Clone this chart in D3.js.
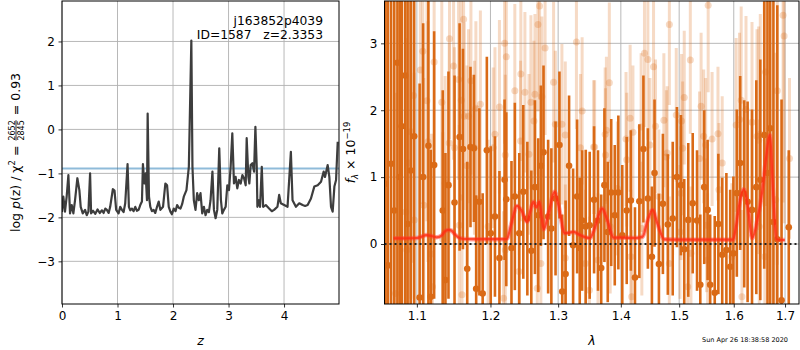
<!DOCTYPE html>
<html>
<head>
<meta charset="utf-8">
<script src="https://d3js.org/d3.v7.min.js"></script>
<style>
  body { margin: 0; background: #fff; }
  text { font-family: "DejaVu Sans", sans-serif; }
</style>
</head>
<body>
<div id="chart"></div>
<script>
// ---- left panel: redshift probability ----
const zGrid = [0.000,0.024,0.054,0.084,0.115,0.145,0.175,0.205,0.235,0.277,0.313,0.337,0.374,0.416,0.446,0.476,0.506,0.524,
  0.56,0.60,0.64,0.68,0.72,0.75,0.78,0.808,0.84,0.868,0.916,0.946,0.976,1.019,1.049,1.079,1.11,1.139,1.181,1.205,1.23,1.26,1.29,1.32,1.35,
  1.38,1.41,1.44,1.458,1.483,1.507,1.531,1.543,1.567,1.591,1.62,1.652,1.68,1.712,1.742,1.772,1.82,1.862,1.893,1.923,1.953,1.98,2.013,
  2.045,2.074,2.104,2.134,2.164,2.194,2.242,2.285,2.33,2.35,2.375,2.405,2.435,2.465,2.495,2.526,2.556,2.586,2.616,2.646,2.676,2.71,
  2.737,2.767,2.797,2.833,2.863,2.887,2.917,2.948,2.978,3.008,3.038,3.068,3.098,3.128,3.158,3.188,3.219,3.249,3.279,3.309,3.327,
  3.357,3.375,3.399,3.43,3.46,3.484,3.508,3.52,3.55,3.568,3.599,3.623,3.671,3.731,3.78,3.821,3.881,3.912,3.942,4.002,4.063,4.123,
  4.153,4.214,4.274,4.334,4.38,4.425,4.485,4.545,4.606,4.666,4.714,4.738,4.786,4.816,4.846,4.876,4.907,4.937,4.967];
const logPz = [-1.88,-1.53,-1.87,-1.53,-1.04,-1.91,-1.72,-1.91,-1.61,-1.11,-1.38,-1.76,-1.91,-1.83,-1.95,-1.87,-1.00,-1.91,
  -1.85,-1.92,-1.82,-1.90,-1.84,-1.90,-1.80,-1.83,-1.90,-1.76,-1.36,-1.39,-1.83,-1.91,-1.76,-1.83,-1.88,-1.68,-0.79,-1.76,-1.84,-1.80,-1.86,-1.76,-1.85,
  -1.83,-1.72,-1.64,-0.79,-1.23,-1.00,-1.61,0.36,-1.53,-1.76,-1.86,-1.83,-1.90,-1.76,-1.64,-1.83,-1.76,-1.23,-1.27,-1.76,-1.87,-1.93,-1.80,
  -1.86,-1.72,-1.78,-1.80,-1.70,-1.53,-1.38,-0.85,2.02,-0.85,-1.61,-1.83,-1.45,-1.61,-1.45,-1.91,-1.76,-1.95,-1.83,-1.88,-1.61,-0.96,
  -1.83,-2.02,-1.83,-0.43,-1.61,-1.91,-1.83,-1.76,-1.27,-1.38,-0.85,-0.09,-1.23,-1.08,-1.34,-1.15,-1.23,-1.04,-1.11,-1.27,-0.20,
  -1.08,-1.23,-0.81,-0.77,-0.96,0.06,-0.85,-1.76,-1.61,-1.76,-0.85,-1.76,-1.72,-1.80,-1.86,-1.83,-1.76,-1.49,-1.68,-1.72,-1.76,-0.51,
  -1.61,-1.76,-1.68,-1.72,-1.74,-1.72,-1.57,-1.30,-1.27,-1.19,-0.96,-1.08,-0.81,-1.08,-1.76,-1.87,-1.30,-1.15,-0.28];
const pzLevel = -0.886;
const zTicks = [0, 1, 2, 3, 4];
const pzTicks = [-3, -2, -1, 0, 1, 2];

// ---- right panel: spectrum ----
const darkWave = [1.060,1.063,1.067,1.071,1.075,1.078,1.0805,1.0848,1.088,1.092,1.0965,1.1036,1.1082,1.1151,1.1182,1.1227,
  1.1342,1.1378,1.1419,1.1501,1.157,1.1616,1.1675,1.172,1.1767,1.1799,1.1844,1.189,1.1949,1.2004,1.2064,1.2128,1.2202,1.2227,
  1.2302,1.2351,1.2416,1.2475,1.2535,1.2594,1.2648,1.2698,1.2737,1.2777,1.2847,1.2896,1.296,1.302,1.3063,1.3115,1.3169,1.3232,
  1.3295,1.3336,1.3374,1.3431,1.3494,1.3564,1.3627,1.3679,1.3731,1.3785,1.3842,1.39,1.3959,1.4024,1.4098,1.4167,1.4236,1.431,
  1.4379,1.4455,1.4524,1.4569,1.4645,1.4714,1.48,1.4886,1.496,1.5031,1.509,1.5162,1.5242,1.532,1.5379,1.5451,1.5513,1.556,
  1.5644,1.5711,1.5783,1.5861,1.5933,1.5993,1.6058,1.6122,1.6199,1.6264,1.6349,1.6432,1.651,1.6587,1.6651,1.6704,1.6768,
  1.6845,1.693,1.7075];
const darkFlux = [0.9,-0.32,1.2,0.5,2.71,1.0,1.76,2.52,0.3,1.1,1.61,-0.80,1.0,1.47,-0.79,1.18,
  0.5,-0.54,0.88,0.62,1.6,1.42,-0.37,1.45,1.43,-0.67,0.63,-0.74,1.4,0.16,0.41,-0.21,0.96,0.67,
  -0.06,0.71,0.16,0.78,0.38,-0.1,0.85,0.43,1.17,1.37,0.41,0.23,0.68,1.48,-0.71,-0.45,1.17,-0.02,
  0.71,-0.06,0.35,0.26,0.28,0.66,0.35,-0.36,0.88,0.18,0.77,0.43,0.77,0.13,0.5,0.65,-0.5,0.64,
  1.42,0.68,-0.19,1.06,-0.3,0.6,0.29,0.38,1.0,0.88,-0.08,0.36,0.61,0.35,-0.61,0.85,0.51,-0.61,
  -0.73,0.3,-0.16,-0.09,-0.34,-0.14,0.76,1.21,0.75,0.63,0.51,0.85,0.96,1.63,1.06,1.73,0.33,
  0.07,-0.84,0.25];
const darkErr = [6,6,6,6,6,6,6,6,6,5,4,3.2,2.3,2.5,2.2,2.0,
  1.8,1.9,1.7,1.9,1.7,1.5,1.6,1.2,1.1,1.4,1.4,1.5,1.4,1.3,1.2,1.3,1.2,1.3,
  1.3,1.4,1.2,1.3,1.15,1.2,1.3,1.15,1.2,1.3,1.15,1.2,1.15,1.1,1.15,1.1,1.05,1.15,
  1.15,1.05,1.05,1.15,1.1,1.1,1.05,1.1,1.15,1.05,1.1,1.05,1.15,1.05,1.1,1.05,1.05,1.15,
  1.1,1.05,1.05,1.1,1.05,1.05,1.05,1.15,1.05,1.05,1.05,1.15,1.05,1.05,1.05,1.15,1.05,1.05,
  1.15,1.05,1.15,1.15,1.15,1.15,1.25,1.3,1.4,1.5,1.5,1.6,1.8,2.0,2.6,3.2,3.5,
  3.5,3.0,1.15];

const lightWave = [1.1625,1.1433,1.1077,1.1227,1.1045,1.1488,1.1556,1.1726,1.0956,1.1132,1.1329,1.1593,1.1858,1.1795,
  1.2128,1.2202,1.2227,1.2439,1.2351,1.2499,1.2588,1.2648,1.2718,1.2693,1.2752,1.2801,1.293,1.3284,1.3374,1.2633,
  1.2957,1.3058,1.311,1.3347,1.3557,1.1634,1.1693,1.2064,1.2039,1.2435,1.2559,1.0922,1.1145,1.1429,1.1500,1.1775,1.2212,
  1.5523,1.4827,1.6961,1.6981,1.4397,1.4455,1.5199,1.4552,1.6612,1.3811,1.6845,1.509,1.6141,1.5394,1.6233,1.4155,
  1.4948,1.4731,1.5043,1.6109,1.3763,1.434,1.4586,1.6349,1.6045,1.4202,1.3743,1.4086,1.5704,1.5595,1.5441,1.651,
  1.6446,1.3573,1.449,1.4788,1.5477,1.6478,1.5061,
  1.0891,1.1671,1.1374,1.1808,1.109,1.0857,1.0965,1.1566,1.1967,1.1342,1.087,1.1192,1.2737,1.2212,1.2411,1.3111,
  1.3427,1.0727,1.1205,1.1603,1.2187,1.2683,1.349,
  1.3748,1.4098,1.4775,1.5365,1.5783,1.709,1.3943,1.4644,1.5031,1.5722,1.6814,1.3825,1.4352,1.5015,1.5495,1.649,
  1.3627,1.4167,1.4826,1.521,1.5513,1.5964,1.6599,1.418,1.5152,1.6155];
const lightFlux = [3.36,3.07,2.88,2.72,2.6,2.66,2.46,2.44,2.22,2.14,2.12,2.15,2.09,2.03,
  2.05,3.0,2.8,2.54,2.29,2.27,2.12,2.24,3.56,3.28,2.2,2.93,2.42,3.02,1.99,1.84,
  1.79,1.79,1.63,1.44,1.45,1.91,1.91,1.64,1.44,1.54,1.34,1.68,1.53,1.51,1.44,1.44,1.33,
  3.57,3.28,3.42,3.11,2.85,2.76,2.75,2.65,2.57,2.41,2.29,2.19,2.15,2.06,2.01,1.88,
  1.93,1.85,1.84,1.86,1.7,1.75,1.76,1.82,1.78,1.67,1.64,1.57,1.65,1.57,1.61,1.64,
  1.61,1.45,1.48,1.36,1.48,1.55,1.43,
  1.21,1.17,0.91,0.66,0.58,0.48,0.36,0.28,0.26,0.07,-0.09,-0.15,-0.29,-0.09,-0.41,-0.21,
  -0.29,-0.74,-0.64,-0.76,-0.81,-0.66,-0.69,
  1.33,1.26,1.3,1.28,1.21,1.28,0.83,0.71,0.76,0.81,0.66,0.26,0.23,0.18,0.28,0.26,
  -0.24,-0.19,-0.29,-0.14,-0.24,-0.19,-0.19,-0.79,-0.64,-0.79];
const lightErr = [1.4,1.5,1.8,1.6,2.0,1.4,1.5,1.4,2.5,1.8,1.6,1.5,1.4,1.3,
  1.3,1.5,1.4,1.3,1.3,1.2,1.3,1.2,1.4,1.3,1.2,1.3,1.2,1.3,1.1,1.2,
  1.1,1.2,1.1,1.1,1.0,1.4,1.3,1.3,1.2,1.2,1.2,2.5,1.8,1.5,1.5,1.3,1.2,
  1.3,1.2,2.8,2.8,1.1,1.2,1.1,1.1,2.0,1.2,2.6,1.0,1.4,1.1,1.4,1.1,
  1.0,1.0,1.0,1.3,1.1,1.1,1.0,1.5,1.3,1.0,1.0,1.0,1.0,1.0,1.0,1.8,
  1.6,1.0,1.0,1.0,1.0,1.7,1.0,
  2.6,1.5,1.6,1.4,1.9,2.6,2.2,1.5,1.3,1.6,2.6,1.8,1.2,1.3,1.2,1.1,
  1.1,3.0,1.8,1.5,1.3,1.2,1.1,
  1.0,1.0,1.0,1.0,1.0,1.2,1.0,1.0,1.0,1.0,2.2,1.0,1.0,1.0,1.0,1.6,
  1.0,1.0,1.0,1.0,1.0,1.1,1.8,1.0,1.0,1.3];

const modelWave = [1.070,1.085,1.100,1.106,1.112,1.119,1.126,1.133,1.137,1.142,1.146,1.150,1.157,1.164,1.190,1.215,1.2234,
  1.230,1.238,1.245,1.253,1.258,1.2624,1.267,1.2714,1.275,1.278,1.285,1.2946,1.300,1.3104,1.317,1.324,1.333,1.3432,1.350,
  1.356,1.3694,1.378,1.388,1.400,1.425,1.4366,1.445,1.4536,1.462,1.474,1.500,1.550,1.5988,1.605,1.612,1.619,1.627,1.635,
  1.645,1.655,1.6625,1.6696,1.676,1.683,1.690,1.6995];
const modelFlux = [0.085,0.085,0.09,0.11,0.134,0.12,0.10,0.13,0.19,0.21,0.20,0.15,0.09,0.075,0.072,0.072,0.075,
  0.30,0.57,0.50,0.33,0.50,0.63,0.55,0.63,0.40,0.22,0.45,0.78,0.60,0.16,0.17,0.18,0.14,0.10,0.09,
  0.20,0.53,0.35,0.095,0.095,0.09,0.11,0.35,0.51,0.30,0.07,0.065,0.065,0.065,0.30,0.65,0.82,0.55,0.085,
  0.35,0.80,1.30,1.63,0.80,0.07,0.06,0.06];
const waveTicks = [1.1, 1.2, 1.3, 1.4, 1.5, 1.6, 1.7];
const fluxTicks = [0, 1, 2, 3];

const objName = "j163852p4039";
const objInfo = "ID=1587   z=2.3353";
const stamp = "Sun Apr 26 18:38:58 2020";

// ---- drawing ----
const width = 800, height = 350;
const font = "DejaVu Sans";
const gridColor = "#b0b0b0";
const orange = "#da6a16";

const svg = d3.select("#chart").append("svg")
  .attr("width", width)
  .attr("height", height);

const L = {x0: 62, x1: 339, y0: 1, y1: 304};
const R = {x0: 384.5, x1: 799, y0: 1, y1: 304};

const xZ = d3.scaleLinear().domain([0, 4.99]).range([L.x0, L.x1]);
const yP = d3.scaleLinear().domain([-3.97, 2.92]).range([L.y1, L.y0]);
const xW = d3.scaleLog().domain([1.0587, 1.7283]).range([R.x0, R.x1]);
const yF = d3.scaleLinear().domain([-0.897, 3.633]).range([R.y1, R.y0]);

const defs = svg.append("defs");
defs.append("clipPath").attr("id", "clipL").append("rect")
  .attr("x", L.x0).attr("y", L.y0).attr("width", L.x1 - L.x0).attr("height", L.y1 - L.y0);
defs.append("clipPath").attr("id", "clipR").append("rect")
  .attr("x", R.x0).attr("y", R.y0).attr("width", R.x1 - R.x0).attr("height", R.y1 - R.y0);

function styleAxis(g) {
  g.select(".domain").remove();
  g.attr("font-family", font).attr("font-size", 12);
  g.selectAll(".tick line").attr("stroke", "#000").attr("stroke-width", 0.8);
  g.selectAll(".tick text").attr("fill", "#000");
}

function grid(xs, ys, xTicks, yTicks, box) {
  const g = svg.append("g").attr("stroke", gridColor).attr("stroke-width", 0.9);
  g.selectAll(".gx").data(xTicks).join("line")
    .attr("x1", d => xs(d)).attr("x2", d => xs(d)).attr("y1", box.y0).attr("y2", box.y1);
  g.selectAll(".gy").data(yTicks).join("line")
    .attr("x1", box.x0).attr("x2", box.x1).attr("y1", d => ys(d)).attr("y2", d => ys(d));
}

// left panel
grid(xZ, yP, zTicks, pzTicks, L);

const lp = svg.append("g").attr("clip-path", "url(#clipL)");
lp.append("line")
  .attr("x1", L.x0).attr("x2", L.x1)
  .attr("y1", yP(pzLevel)).attr("y2", yP(pzLevel))
  .attr("stroke", "#1f77b4").attr("stroke-opacity", 0.5).attr("stroke-width", 2);

lp.append("path")
  .datum(zGrid.map((z, i) => [z, logPz[i]]))
  .attr("fill", "none")
  .attr("stroke", "#3d3d3d")
  .attr("stroke-width", 2.2)
  .attr("stroke-linejoin", "round")
  .attr("d", d3.line().x(d => xZ(d[0])).y(d => yP(d[1])));

svg.append("g").attr("transform", `translate(0,${L.y1})`)
  .call(d3.axisBottom(xZ).tickValues(zTicks).tickSize(3.5).tickPadding(3.5).tickFormat(d3.format("d")))
  .call(styleAxis);
svg.append("g").attr("transform", `translate(${L.x0},0)`)
  .call(d3.axisLeft(yP).tickValues(pzTicks).tickSize(3.5).tickPadding(3.5).tickFormat(d3.format("d")))
  .call(styleAxis);

svg.append("rect")
  .attr("x", L.x0).attr("y", L.y0).attr("width", L.x1 - L.x0).attr("height", L.y1 - L.y0)
  .attr("fill", "none").attr("stroke", "#000").attr("stroke-width", 1);

svg.append("text").attr("x", 323).attr("y", 25).attr("text-anchor", "end")
  .attr("font-size", 12.3).style("white-space", "pre").text(objName);
svg.append("text").attr("x", 323).attr("y", 39).attr("text-anchor", "end")
  .attr("font-size", 12.3).style("white-space", "pre").text(objInfo);

svg.append("text").attr("x", (L.x0 + L.x1) / 2).attr("y", 345).attr("text-anchor", "middle")
  .attr("font-size", 12.5).attr("font-style", "italic").text("z");

// left y label with stacked fraction
const yl = svg.append("g");
const t1 = yl.append("text").attr("font-size", 12.5).attr("x", 0).attr("y", 0);
t1.append("tspan").text("log ");
t1.append("tspan").attr("font-style", "italic").text("p");
t1.append("tspan").text("(z) / χ");
t1.append("tspan").attr("font-size", 8.5).attr("dy", -5).text("2");
t1.append("tspan").attr("dy", 5).style("white-space", "pre").text(" = ");
const w1 = t1.node().getComputedTextLength() + 1;
const num = yl.append("text").attr("font-size", 8).attr("x", w1).attr("y", -5).text("2652");
const den = yl.append("text").attr("font-size", 8).attr("x", w1).attr("y", 4).text("2845");
const wf = Math.max(num.node().getComputedTextLength(), den.node().getComputedTextLength());
yl.append("line").attr("x1", w1).attr("x2", w1 + wf).attr("y1", -3.5).attr("y2", -3.5)
  .attr("stroke", "#000").attr("stroke-width", 0.8);
const t3 = yl.append("text").attr("font-size", 12.5).attr("x", w1 + wf + 1).attr("y", 0)
  .style("white-space", "pre").text(" = 0.93");
const wTot = w1 + wf + 1 + t3.node().getComputedTextLength();
yl.attr("transform", `translate(19.5,${(L.y0 + L.y1) / 2 + wTot / 2}) rotate(-90)`);

// right panel
grid(xW, yF, waveTicks, fluxTicks, R);

const rp = svg.append("g").attr("clip-path", "url(#clipR)");

const light = lightWave.map((w, i) => ({w, f: lightFlux[i], e: lightErr[i]}));
const dark = darkWave.map((w, i) => ({w, f: darkFlux[i], e: darkErr[i]}));

rp.append("g").selectAll("line").data(light).join("line")
  .attr("x1", d => xW(d.w)).attr("x2", d => xW(d.w))
  .attr("y1", d => yF(d.f - d.e)).attr("y2", d => yF(d.f + d.e))
  .attr("stroke", orange).attr("stroke-opacity", 0.25).attr("stroke-width", 3);
rp.append("g").selectAll("circle").data(light).join("circle")
  .attr("cx", d => xW(d.w)).attr("cy", d => yF(d.f)).attr("r", 3.5)
  .attr("fill", orange).attr("fill-opacity", 0.25);

rp.append("g").selectAll("line").data(dark).join("line")
  .attr("x1", d => xW(d.w)).attr("x2", d => xW(d.w))
  .attr("y1", d => yF(d.f - d.e)).attr("y2", d => yF(d.f + d.e))
  .attr("stroke", orange).attr("stroke-width", 2.6);
rp.append("g").selectAll("circle").data(dark).join("circle")
  .attr("cx", d => xW(d.w)).attr("cy", d => yF(d.f)).attr("r", 3.3)
  .attr("fill", orange);

const modelLine = d3.line().x(d => xW(d[0])).y(d => yF(d[1])).curve(d3.curveMonotoneX);
const model = modelWave.map((w, i) => [w, modelFlux[i]]);
rp.append("path").datum(model).attr("d", modelLine)
  .attr("fill", "none").attr("stroke", "#ff3a2a").attr("stroke-opacity", 0.45).attr("stroke-width", 4.5);
rp.append("path").datum(model).attr("d", modelLine)
  .attr("fill", "none").attr("stroke", "#ff2a10").attr("stroke-opacity", 0.75).attr("stroke-width", 2.2);

rp.append("line")
  .attr("x1", R.x0).attr("x2", R.x1).attr("y1", yF(0)).attr("y2", yF(0))
  .attr("stroke", "#222").attr("stroke-width", 2).attr("stroke-dasharray", "2,3");

svg.append("g").attr("transform", `translate(0,${R.y1})`)
  .call(d3.axisBottom(xW).tickValues(waveTicks).tickSize(3.5).tickPadding(3.5).tickFormat(d3.format(".1f")))
  .call(styleAxis);
svg.append("g").attr("transform", `translate(${R.x0},0)`)
  .call(d3.axisLeft(yF).tickValues(fluxTicks).tickSize(3.5).tickPadding(3.5).tickFormat(d3.format("d")))
  .call(styleAxis);

svg.append("rect")
  .attr("x", R.x0).attr("y", R.y0).attr("width", R.x1 - R.x0).attr("height", R.y1 - R.y0)
  .attr("fill", "none").attr("stroke", "#000").attr("stroke-width", 1);

svg.append("text").attr("x", 592).attr("y", 345).attr("text-anchor", "middle")
  .attr("font-size", 12.5).attr("font-style", "italic").text("λ");

const yr = svg.append("text").attr("font-size", 12.5)
  .attr("transform", `translate(354.5,${(R.y0 + R.y1) / 2}) rotate(-90)`)
  .attr("text-anchor", "middle");
yr.append("tspan").attr("font-style", "italic").text("f");
yr.append("tspan").attr("font-style", "italic").attr("font-size", 8.5).attr("dy", 3).text("λ");
yr.append("tspan").attr("dy", -3).style("white-space", "pre").text(" × 10");
yr.append("tspan").attr("font-size", 8.5).attr("dy", -5).text("−19");

svg.append("text").attr("x", 788).attr("y", 342).attr("text-anchor", "end")
  .attr("font-size", 6.5).text(stamp);
</script>
</body>
</html>
